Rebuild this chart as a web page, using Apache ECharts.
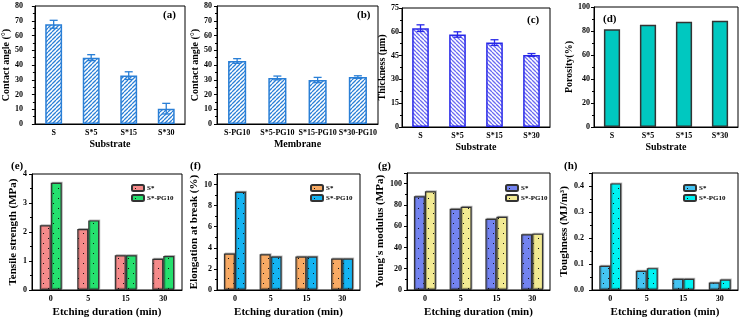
<!DOCTYPE html>
<html>
<head>
<meta charset="utf-8">
<script src="https://cdn.jsdelivr.net/npm/echarts@6/dist/echarts.min.js"></script>
<style>
  html, body { margin: 0; padding: 0; background: #fff; }
  #chart { width: 744px; height: 319px; }
</style>
</head>
<body>
<div id="chart"></div>
<script>
// categories
var catSub = ['S', 'S*5', 'S*15', 'S*30']
var catMem = ['S-PG10', 'S*5-PG10', 'S*15-PG10', 'S*30-PG10']
var catEtch = ['0', '5', '15', '30']

// top row values
var contactSub = [67.6, 45.0, 32.8, 10.4]
var contactSubErr = [2.7, 2.0, 2.6, 3.6]
var contactMem = [42.7, 31.2, 29.8, 31.8]
var contactMemErr = [1.6, 1.3, 1.8, 0.9]
var thickness = [62.3, 58.3, 53.2, 45.4]
var thicknessErr = [2.1, 1.7, 1.8, 0.9]
var porosity = [81.5, 85.2, 87.8, 88.6]

// bottom row values
var tensileS = [2.23, 2.10, 1.20, 1.08]
var tensilePG = [3.70, 2.40, 1.20, 1.17]
var elongS = [3.45, 3.38, 3.18, 2.98]
var elongPG = [9.32, 3.18, 3.18, 2.98]
var youngS = [88.2, 76.3, 67.0, 52.3]
var youngPG = [92.8, 78.2, 68.8, 53.0]
var toughS = [0.093, 0.074, 0.043, 0.029]
var toughPG = [0.410, 0.084, 0.043, 0.040]

var FONT = 'Liberation Serif'

function hatch(color, dir) {
  var s = 4
  var c = document.createElement('canvas')
  c.width = s
  c.height = s
  var ctx = c.getContext('2d')
  ctx.fillStyle = '#fff'
  ctx.fillRect(0, 0, s, s)
  ctx.strokeStyle = color
  ctx.lineWidth = 1.3
  ctx.beginPath()
  for (var k = -1; k <= 1; k++) {
    if (dir > 0) {
      ctx.moveTo(k * s, s)
      ctx.lineTo(k * s + s, 0)
    } else {
      ctx.moveTo(k * s, 0)
      ctx.lineTo(k * s + s, s)
    }
  }
  ctx.stroke()
  return { image: c, repeat: 'repeat' }
}

function dots(color) {
  var c = document.createElement('canvas')
  c.width = 10
  c.height = 10
  var ctx = c.getContext('2d')
  ctx.fillStyle = color
  ctx.fillRect(0, 0, 10, 10)
  ctx.fillStyle = '#111'
  ctx.fillRect(3, 3, 1, 1)
  ctx.fillRect(8, 8, 1, 1)
  return { image: c, repeat: 'repeat' }
}

var grids = [
  { left: 34, top: 6, width: 151, height: 118 },
  { left: 217, top: 6, width: 161, height: 118 },
  { left: 402, top: 8, width: 148, height: 119 },
  { left: 594, top: 7, width: 144, height: 120 },
  { left: 32, top: 174, width: 150, height: 117 },
  { left: 217, top: 174, width: 143, height: 117 },
  { left: 407, top: 173, width: 143, height: 118 },
  { left: 592, top: 173, width: 146, height: 118 }
]

function xAx(i, cats, name, big) {
  return {
    type: 'category', gridIndex: i, data: cats,
    name: name, nameLocation: 'middle', nameGap: big ? 17 : 15,
    nameTextStyle: { fontFamily: FONT, fontWeight: 'bold', fontSize: big ? 11 : 10, color: '#000' },
    axisLine: { lineStyle: { color: '#000', width: 1 } },
    axisTick: { alignWithLabel: true, length: 3, lineStyle: { color: '#000' } },
    axisLabel: { fontFamily: FONT, fontWeight: 'bold', fontSize: 8, color: '#000', margin: 5, interval: 0 }
  }
}

function yAx(i, name, max, interval, gap, margin, big, fmt) {
  return {
    type: 'value', gridIndex: i, min: 0, max: max, interval: interval,
    name: name, nameLocation: 'middle', nameGap: gap,
    nameTextStyle: { fontFamily: FONT, fontWeight: 'bold', fontSize: big ? 11 : 10, color: '#000' },
    axisLine: { show: true, lineStyle: { color: '#000', width: 1 } },
    axisTick: { show: true, length: 3, lineStyle: { color: '#000' } },
    minorTick: { show: true, splitNumber: 2, length: 2, lineStyle: { color: '#000' } },
    splitLine: { show: false },
    axisLabel: { fontFamily: FONT, fontWeight: 'bold', fontSize: 8, color: '#000', margin: margin, showMaxLabel: max % interval === 0, formatter: fmt }
  }
}

function errSeries(i, vals, errs, color) {
  return {
    type: 'custom', xAxisIndex: i, yAxisIndex: i, z: 5, silent: true,
    data: vals.map(function (v, k) { return [k, v - errs[k], v + errs[k]] }),
    renderItem: function (params, api) {
      var lo = api.coord([api.value(0), api.value(1)])
      var hi = api.coord([api.value(0), api.value(2)])
      var w = 4
      var st = { stroke: color, lineWidth: 1.3 }
      return {
        type: 'group',
        children: [
          { type: 'line', shape: { x1: lo[0], y1: lo[1], x2: hi[0], y2: hi[1] }, style: st },
          { type: 'line', shape: { x1: lo[0] - w, y1: lo[1], x2: lo[0] + w, y2: lo[1] }, style: st },
          { type: 'line', shape: { x1: hi[0] - w, y1: hi[1], x2: hi[0] + w, y2: hi[1] }, style: st }
        ]
      }
    }
  }
}

function topBar(i, vals, fill, border) {
  return {
    type: 'bar', xAxisIndex: i, yAxisIndex: i, data: vals, barWidth: '45%',
    itemStyle: { color: fill, borderColor: border, borderWidth: 1.5 }
  }
}

function pairBars(i, tag, a, b, colA, colB) {
  var style = function (c) {
    return {
      color: dots(c), borderColor: '#333', borderWidth: 1.2,
      shadowColor: 'rgba(0,0,0,0.25)', shadowOffsetX: 1, shadowOffsetY: -1, shadowBlur: 0
    }
  }
  return [
    { type: 'bar', name: tag + ':S*', xAxisIndex: i, yAxisIndex: i, data: a, barWidth: 11, barGap: '0%', itemStyle: style(colA) },
    { type: 'bar', name: tag + ':S*-PG10', xAxisIndex: i, yAxisIndex: i, data: b, barWidth: 11, barGap: '0%', itemStyle: style(colB) }
  ]
}

function legendAt(tag, left) {
  return {
    left: left, top: 179, orient: 'vertical', itemGap: 2, itemWidth: 12, itemHeight: 6,
    data: [tag + ':S*', tag + ':S*-PG10'],
    formatter: function (n) { return n.split(':')[1] },
    textStyle: { fontFamily: FONT, fontWeight: 'bold', fontSize: 7, color: '#000', padding: [0, 0, 0, -2] },
    selectedMode: false
  }
}

function tag(text, x, y) {
  return { type: 'text', left: x, top: y, style: { text: text, fontFamily: FONT, fontWeight: 'bold', fontSize: 11, fill: '#000' } }
}

var blueA = '#2a7fd6'
var blueC = '#2828e8'

var option = {
  animation: false,
  grid: grids.map(function (g) {
    return Object.assign({ show: true, borderColor: '#000', borderWidth: 1, backgroundColor: 'transparent' }, g)
  }),
  xAxis: [
    xAx(0, catSub, 'Substrate'),
    xAx(1, catMem, 'Membrane'),
    xAx(2, catSub, 'Substrate'),
    xAx(3, catSub, 'Substrate'),
    xAx(4, catEtch, 'Etching duration (min)', true),
    xAx(5, catEtch, 'Etching duration (min)', true),
    xAx(6, catEtch, 'Etching duration (min)', true),
    xAx(7, catEtch, 'Etching duration (min)', true)
  ],
  yAxis: [
    yAx(0, 'Contact angle (°)', 80, 10, 23, 12),
    yAx(1, 'Contact angle (°)', 80, 10, 12, 5),
    yAx(2, 'Thickness (μm)', 75, 15, 12, 3),
    yAx(3, 'Porosity(%)', 100, 20, 18, 4),
    yAx(4, 'Tensile strength (MPa)', 4, 1, 11, 5, true),
    yAx(5, 'Elongation at break (%)', 11, 2, 13, 5, true),
    yAx(6, "Young's modulus (MPa)", 110, 20, 19, 5, true),
    yAx(7, 'Toughness (MJ/m³)', 0.45, 0.1, 14, 8, true, function (v) { return v.toFixed(1) })
  ],
  legend: [
    legendAt('e', 126),
    legendAt('f', 305),
    legendAt('g', 500),
    legendAt('h', 678)
  ],
  graphic: [
    tag('(a)', 163, 10),
    tag('(b)', 357, 10),
    tag('(c)', 527, 15),
    tag('(d)', 603, 14),
    tag('(e)', 11, 161),
    tag('(f)', 190, 161),
    tag('(g)', 378, 161),
    tag('(h)', 564, 161)
  ],
  series: [
    topBar(0, contactSub, hatch(blueA, 1), blueA),
    errSeries(0, contactSub, contactSubErr, blueA),
    topBar(1, contactMem, hatch(blueA, 1), blueA),
    errSeries(1, contactMem, contactMemErr, blueA),
    topBar(2, thickness, hatch('#6a6af2', -1), blueC),
    errSeries(2, thickness, thicknessErr, blueC),
    topBar(3, porosity, '#00c8c0', '#333')
  ].concat(
    pairBars(4, 'e', tensileS, tensilePG, '#f58a8a', '#25e06e'),
    pairBars(5, 'f', elongS, elongPG, '#f8aa64', '#14b4f2'),
    pairBars(6, 'g', youngS, youngPG, '#7383f0', '#f2ea92'),
    pairBars(7, 'h', toughS, toughPG, '#44c4f2', '#00f2f2')
  )
}

var chart = echarts.init(document.getElementById('chart'), null, { renderer: 'canvas' })
chart.setOption(option)
</script>
</body>
</html>
